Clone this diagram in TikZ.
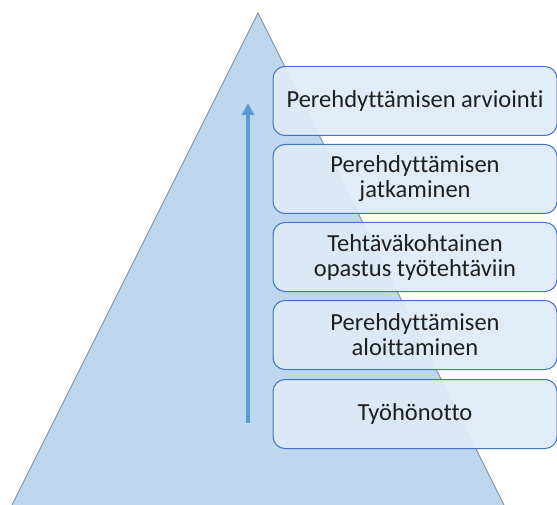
\documentclass[tikz,border=0pt]{standalone}
\usepackage{fontspec}
\setmainfont{Carlito}[Ligatures=NoCommon]
\usetikzlibrary{arrows.meta}
\definecolor{trifill}{HTML}{BDD7EE}
\definecolor{triline}{HTML}{8497B0}
\definecolor{boxfill}{HTML}{DEEBF7}
\definecolor{boxline}{HTML}{4472C4}
\definecolor{arrowc}{HTML}{5B9BD5}
\tikzset{
  stepbox/.style={draw=boxline, line width=1pt, fill=boxfill, fill opacity=0.93, text opacity=1,
    rounded corners=12pt, minimum width=284pt, minimum height=69pt, align=center,
    inner sep=0pt, font=\fontsize{24.5}{25}\selectfont, text=black!88},
}
\begin{document}
\begin{tikzpicture}[x=1pt,y=-1pt]
\useasboundingbox (0,0) rectangle (557,505);
\coordinate (apex) at (258,13);
\coordinate (bl) at (12,505);
\coordinate (br) at (504,505);
\fill[trifill] (apex) -- (bl) -- (br) -- cycle;
\draw[triline, line width=1pt] (bl) -- (apex) -- (br);
\coordinate (a0) at (248,423);
\coordinate (a1) at (248,103);
\draw[arrowc, line width=4pt, -{Triangle[length=12pt,width=12pt]}] (a0) -- (a1);
\begin{scope}
\clip (0,0) rectangle (557,505);
\node[stepbox] (b1) at (415,101) {Perehdyttämisen arviointi};
\node[stepbox] (b2) at (415,179) {Perehdyttämisen\\jatkaminen};
\node[stepbox] (b3) at (415,257) {Tehtäväkohtainen\\opastus työtehtäviin};
\node[stepbox] (b4) at (415,335) {Perehdyttämisen\\aloittaminen};
\node[stepbox] (b5) at (415,414) {Työhönotto};
\end{scope}
\end{tikzpicture}
\end{document}
